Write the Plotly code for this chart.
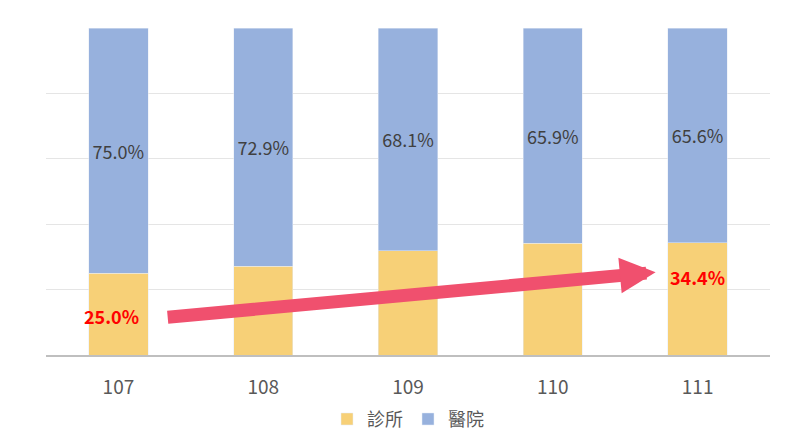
import plotly.graph_objects as go

years = ["107", "108", "109", "110", "111"]
clinic = [25.0, 27.1, 31.9, 34.1, 34.4]
hospital = [75.0, 72.9, 68.1, 65.9, 65.6]
hosp_labels = [f"{v:.1f}%" for v in hospital]

FONT = "Noto Sans CJK TC"
fig = go.Figure()
fig.add_bar(x=years, y=clinic, name="診所", marker_color="#F7D077", width=0.41)
fig.add_bar(x=years, y=hospital, name="醫院", marker_color="#97B1DD", width=0.41,
            text=hosp_labels, textposition="inside", insidetextanchor="middle",
            textfont=dict(size=18, color="#404040", family=FONT))

fig.add_annotation(x=3.71, y=25.3, ax=0.33, ay=11.5, xref="x", yref="y", axref="x", ayref="y",
                   showarrow=True, arrowhead=2, arrowsize=0.55, arrowwidth=13,
                   arrowcolor="#F0506E", text="")
fig.add_annotation(x=-0.05, y=12, xref="x", yref="y", text="<b>25.0%</b>", showarrow=False,
                   font=dict(size=18, color="#FF0000", family=FONT))
fig.add_annotation(x=4, y=23.8, xref="x", yref="y", text="<b>34.4%</b>", showarrow=False,
                   font=dict(size=18, color="#FF0000", family=FONT))

fig.update_layout(
    barmode="stack", width=794, height=442, plot_bgcolor="white", paper_bgcolor="white",
    margin=dict(l=38, r=32, t=20, b=95, autoexpand=False), bargap=0.59,
    font=dict(family=FONT, size=18, color="#595959"),
    legend=dict(orientation="h", x=0.5, xanchor="center", y=-0.14, yanchor="top",
                font=dict(size=18, color="#595959"), traceorder="normal"),
    yaxis=dict(range=[0, 100], dtick=20, showticklabels=False, gridcolor="#E5E5E5",
               zeroline=False),
    xaxis=dict(showline=True, linecolor="#BFBFBF", linewidth=1.5, ticks="outside",
               ticklen=14, tickcolor="rgba(0,0,0,0)", tickfont=dict(size=19)),
)
fig.write_html("out.html")
